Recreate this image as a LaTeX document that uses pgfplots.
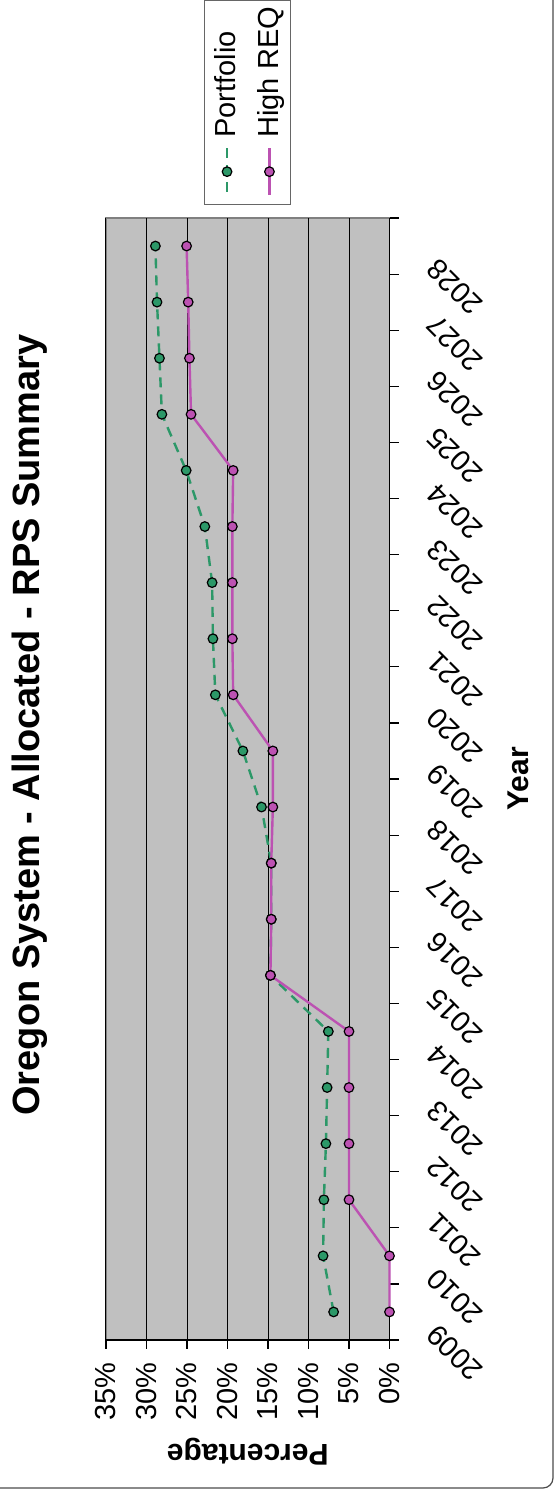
\documentclass[border=0pt]{standalone}
\usepackage{pgfplots}
\pgfplotsset{compat=1.18}
\usepackage{fontspec}
\setmainfont{Liberation Sans}
\definecolor{bgc}{RGB}{192,192,192}
\definecolor{pgreen}{RGB}{44,152,104}
\definecolor{pmag}{RGB}{188,82,178}
\begin{document}
\begin{tikzpicture}
\path[use as bounding box] (0pt,0pt) rectangle (278pt,745.5pt);
\draw[black!70, line width=0.6pt, rounded corners=5pt] (-10pt,1.5pt) rectangle (276.5pt,760pt);
\node[rotate=90, font=\fontsize{19}{23}\selectfont\bfseries] at (15pt,383pt) {Oregon System - Allocated - RPS Summary};
\begin{axis}[
 at={(53pt,75.5pt)}, anchor=south west, scale only axis, width=141.75pt, height=561pt,
 xmin=0, xmax=35, x dir=reverse, ymin=2008.5, ymax=2028.5,
 clip=false,
 axis x line*=bottom, axis y line*=right,
 axis line style={black, line width=0.8pt},
 axis background/.style={fill=bgc, draw=black!50, line width=0.6pt},
 xtick={0,5,...,35}, xticklabels={0\%,5\%,10\%,15\%,20\%,25\%,30\%,35\%},
 xmajorgrids, grid style={black, line width=0.5pt},
 tick align=outside, major tick length=4.5pt, minor tick length=4.5pt,
 tick style={black, line width=0.6pt},
 ytick={2009,...,2028},
 yticklabels={2009,2010,2011,2012,2013,2014,2015,2016,2017,2018,2019,2020,2021,2022,2023,2024,2025,2026,2027,2028},
 minor ytick={2008.5,2009.5,...,2028.5},
 major y tick style={draw=none},
 xticklabel style={font=\fontsize{14.5}{17}\selectfont, inner sep=0pt, yshift=-6.5pt, rotate=90, anchor=east},
 yticklabel style={font=\fontsize{14.5}{17}\selectfont, inner sep=0pt, xshift=16.5pt, yshift=-9pt, rotate=135, anchor=east},
 xlabel={Percentage}, ylabel={Year},
 xlabel style={font=\fontsize{15}{18}\selectfont\bfseries, at={(axis description cs:0.5,0)}, anchor=center, yshift=-56pt, rotate=180},
 ylabel style={font=\fontsize{15}{18}\selectfont\bfseries, at={(axis description cs:1,0.5)}, anchor=center, yshift=-64.5pt},
 legend image code/.code={%
   \path (0pt,0pt) (0pt,-29.25pt);
   \draw[overlay, mark repeat=2, mark phase=2, #1] plot coordinates {(10pt,-2.25pt) (10pt,-14pt) (10pt,-25.75pt)};},
 legend columns=2,
 legend style={at={(axis description cs:0.5,1)}, anchor=south, yshift=6.5pt,
   draw=black!60, fill=white, line width=0.6pt, font=\fontsize{14.5}{17}\selectfont,
   inner sep=0.5pt, column sep=0.5pt,
   nodes={rotate=90, inner sep=2.75pt, text height=10.5pt, text depth=3pt}},
 legend cell align=left,
]
\addplot[pgreen, line width=1.2pt, dash pattern=on 5pt off 3.5pt, mark=*, mark size=2.4pt,
  mark options={solid, fill=pgreen, draw=black, line width=0.6pt}] coordinates {
 (6.9,2009) (8.2,2010) (8.1,2011) (7.85,2012) (7.7,2013) (7.55,2014) (14.7,2015) (14.6,2016) (14.6,2017) (15.8,2018)
 (18.1,2019) (21.5,2020) (21.8,2021) (21.9,2022) (22.8,2023) (25.1,2024) (28.1,2025) (28.4,2026) (28.7,2027) (28.9,2028)};
\addlegendentry{Portfolio}
\addplot[pmag, line width=1.2pt, mark=*, mark size=2.4pt,
  mark options={solid, fill=pmag, draw=black, line width=0.6pt}] coordinates {
 (0,2009) (0,2010) (5,2011) (5,2012) (5,2013) (5,2014) (14.7,2015) (14.6,2016) (14.6,2017) (14.4,2018)
 (14.4,2019) (19.3,2020) (19.4,2021) (19.4,2022) (19.4,2023) (19.3,2024) (24.5,2025) (24.7,2026) (24.85,2027) (25.05,2028)};
\addlegendentry{High REQ}
\end{axis}
\end{tikzpicture}
\end{document}
